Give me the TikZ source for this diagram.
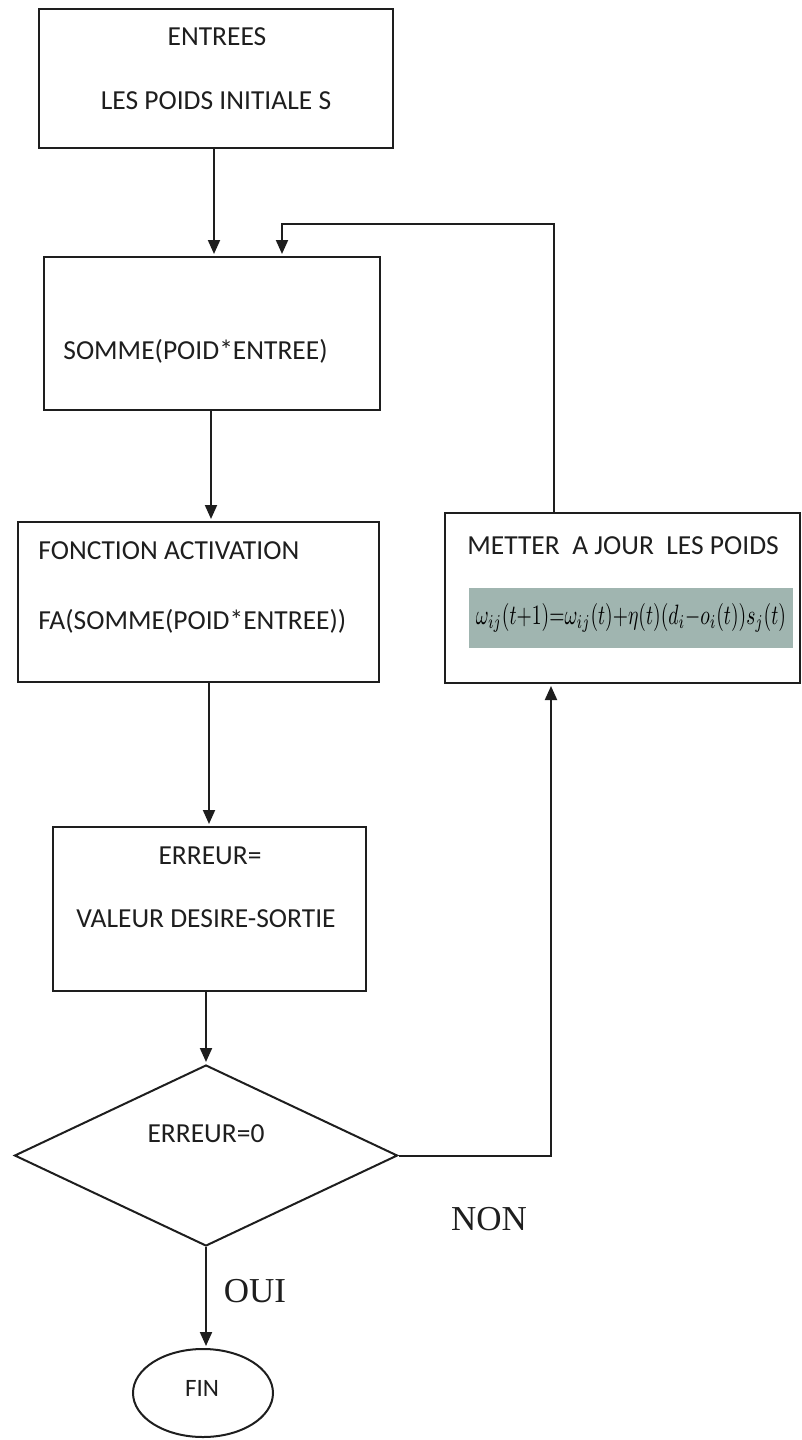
\documentclass[tikz,border=0pt]{standalone}
\usepackage{fontspec}
\setmainfont{Carlito}
\newfontfamily\serifrm{Liberation Serif}
\usetikzlibrary{arrows.meta,shapes.geometric}
\definecolor{ink}{RGB}{30,30,30}
\definecolor{formulabg}{RGB}{160,181,176}
\begin{document}
\begin{tikzpicture}[x=0.5pt,y=-0.5pt,
  box/.style={draw=ink, line width=1pt, rectangle, inner sep=0pt},
  lbl/.style={font=\fontsize{13.75pt}{16pt}\selectfont, text=ink, inner sep=0pt},
  yesno/.style={font=\serifrm\fontsize{17.5pt}{20pt}\selectfont, text=ink, inner sep=0pt},
  flow/.style={draw=ink, line width=1pt, -{Triangle[width=6pt,length=7pt]}, shorten >=1pt},
]
\useasboundingbox (0,0) rectangle (802,1440);

% process boxes
\node[box, minimum width=177pt, minimum height=69.5pt] (b1) at (216,78.5) {};
\node[box, minimum width=168pt, minimum height=76.5pt] (b2) at (212,333.5) {};
\node[box, minimum width=180.5pt, minimum height=80pt] (b3) at (198.5,602) {};
\node[box, minimum width=177.5pt, minimum height=85pt] (b4) at (622.5,598) {};
\node[box, minimum width=156.5pt, minimum height=82pt] (b5) at (209.5,909) {};
\node[draw=ink, line width=1pt, diamond, inner sep=0pt,
      minimum width=191.5pt, minimum height=90.5pt] (dia) at (206,1155.5) {};
\node[draw=ink, line width=1pt, ellipse, inner sep=0pt,
      minimum width=70pt, minimum height=44pt] (fin) at (203,1393) {};

% box texts
\node[lbl, anchor=base] (t1a) at (217,46) {ENTREES};
\node[lbl, anchor=base] (t1b) at (216,109) {LES POIDS INITIALE S};
\node[lbl, anchor=base west] (t2) at (63,359) {SOMME(POID*ENTREE)};
\node[lbl, anchor=base west] (t3a) at (38,559) {FONCTION ACTIVATION};
\node[lbl, anchor=base west] (t3b) at (38,629) {FA(SOMME(POID*ENTREE))};
\node[lbl, anchor=base west] (t4) at (467,554) {METTER\ \ A JOUR\ \ LES POIDS};
\node[fill=formulabg, inner sep=0pt, minimum width=162pt, minimum height=30pt] (eq) at (631,618)
  {\resizebox*{155pt}{14.5pt}{$\omega_{ij}(t{+}1){=}\omega_{ij}(t){+}\eta(t)(d_i{-}o_i(t))s_j(t)$}};
\node[lbl, anchor=base] (t5a) at (210,864) {ERREUR=};
\node[lbl, anchor=base] (t5b) at (206,927) {VALEUR DESIRE-SORTIE};
\node[lbl, anchor=base] (td) at (206,1142) {ERREUR=0};
\node[lbl, anchor=base, font=\fontsize{12.5pt}{15pt}\selectfont] (tf) at (202,1396) {FIN};

% branch labels
\node[yesno, anchor=base] (non) at (489,1230) {NON};
\node[yesno, anchor=base] (oui) at (255,1302) {OUI};

% connectors
\coordinate (loopr) at (554,224);
\coordinate (loopl) at (282,224);
\coordinate (col3) at (209,0);
\coordinate (nonx) at (551,0);

\draw[flow] ([xshift=-1pt]b1.south) -- ([xshift=-1pt]b1.south |- b2.north);
\draw[flow] (b4.north -| loopr) -- (loopr) -- (loopl) -- (loopl |- b2.north);
\draw[flow] ([xshift=-0.5pt]b2.south) -- ([xshift=-0.5pt]b2.south |- b3.north);
\draw[flow] (col3 |- b3.south) -- (col3 |- b5.north);
\draw[flow] (dia.north |- b5.south) -- (dia.north);
\draw[flow] (dia.east) -- (dia.east -| nonx) -- (nonx |- b4.south);
\draw[flow] (dia.south) -- (dia.south |- fin.north);
\end{tikzpicture}
\end{document}
